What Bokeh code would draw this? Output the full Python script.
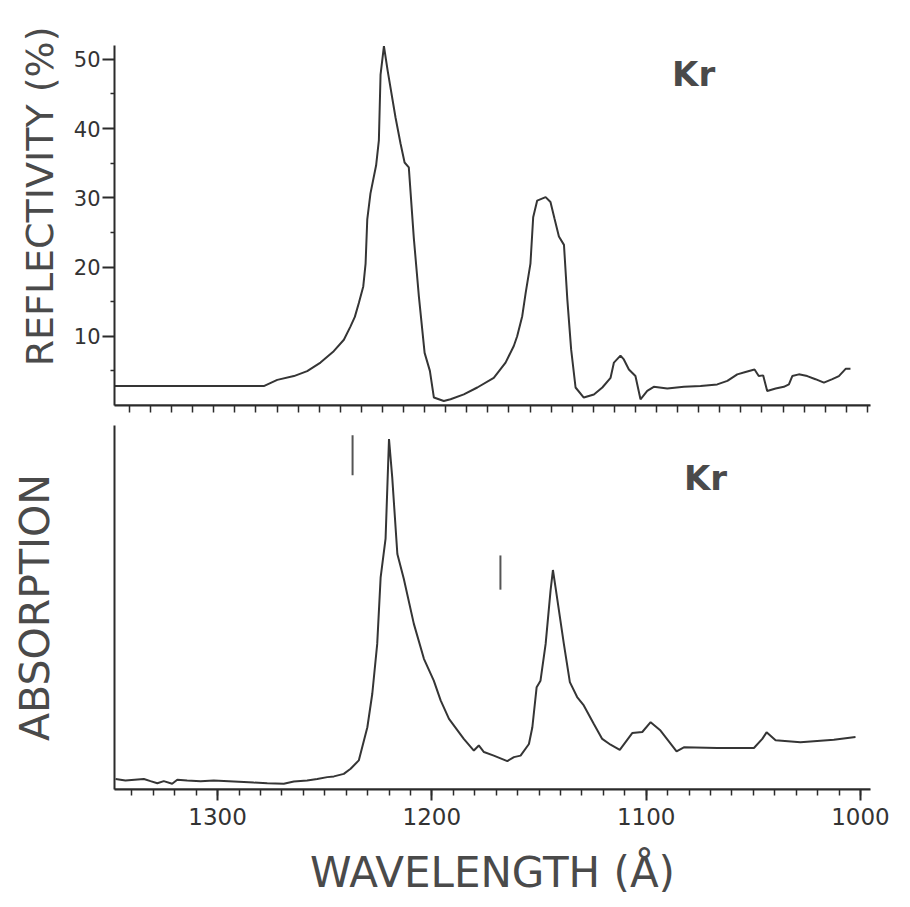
from bokeh.plotting import figure
from bokeh.layouts import column
from bokeh.models import Range1d, FixedTicker, Label, LinearAxis, Title
from bokeh.embed import file_html
from bokeh.resources import INLINE

# ---------------- data ----------------
# Upper panel: reflectivity of Kr (%), versus wavelength (Angstrom)
refl_wl = [1347, 1276.3, 1269.9, 1262, 1255.7, 1249.4, 1243.1, 1238.3, 1235.2, 1233.1,
           1231.2, 1229.1, 1228, 1227.2, 1225.7, 1223, 1221.7, 1220.9, 1219.3, 1217.5,
           1213.8, 1211.4, 1209.5, 1207.5, 1205.1, 1202.7, 1200, 1197.5, 1195.6, 1190.9,
           1187.7, 1181.4, 1175, 1167.2, 1161.6, 1157.7, 1156.1, 1153.7, 1152.1, 1149.8,
           1148.5, 1146.6, 1142.6, 1140.3, 1138.4, 1136.3, 1133.9, 1132.3, 1130.5, 1128.4,
           1124.5, 1119.7, 1115.7, 1111.8, 1110.2, 1107.1, 1105.5, 1103.1, 1100, 1097.6,
           1094.4, 1091.3, 1084.9, 1077, 1069.1, 1061.2, 1056.4, 1051.7, 1047.8, 1043.5,
           1041.5, 1039.4, 1037.5, 1033.5, 1029.6, 1027.2, 1025.6, 1022.5, 1018.5, 1014.6,
           1010.6, 1006.6, 1003.5, 1000.3, 998]
refl = [2.8, 2.8, 3.7, 4.25, 4.97, 6.2, 7.85, 9.5, 11.4, 12.8,
        14.8, 17.2, 20.5, 26.9, 30.6, 34.7, 38.3, 47.8, 51.9, 48.3,
        41.6, 37.8, 35.1, 34.4, 24.1, 15.7, 7.6, 5.0, 1.15, 0.66,
        0.9, 1.6, 2.6, 4.0, 6.2, 8.6, 10, 12.9, 16.2, 20.5,
        27.2, 29.6, 30.1, 29.4, 27.0, 24.4, 23.2, 15.3, 8.1, 2.6,
        1.15, 1.6, 2.6, 4.0, 6.2, 7.2, 6.65, 5.2, 4.25, 0.9,
        2.1, 2.7, 2.45, 2.7, 2.8, 3.05, 3.55, 4.5, 4.85, 5.2,
        4.25, 4.35, 2.1, 2.45, 2.7, 3.05, 4.25, 4.5, 4.25, 3.8,
        3.3, 3.8, 4.25, 5.3, 5.3]

# Lower panel: absorption of Kr (arbitrary units), versus wavelength (Angstrom)
abs_wl = [1347.6, 1343.0, 1334.4, 1331.3, 1328.1, 1325.1, 1321.2, 1318.8, 1314.2, 1307.9,
          1301.8, 1292.4, 1283.1, 1276.8, 1269.1, 1264.4, 1258.2, 1253.5, 1248.8, 1245.7,
          1241.1, 1237.9, 1234.1, 1230.1, 1227.8, 1225.5, 1223.9, 1221.6, 1220, 1218.5,
          1216.1, 1213.1, 1208.4, 1203.7, 1199.1, 1195.9, 1192, 1185.1, 1180.4, 1178.1,
          1175.7, 1171.1, 1164.8, 1161.7, 1158.6, 1154.7, 1153.1, 1151.1, 1149.3, 1146.9,
          1144.6, 1143.5, 1142.3, 1138.4, 1135.6, 1132.2, 1129.1, 1124.4, 1120.5, 1116.6,
          1112.3, 1106.5, 1101.8, 1097.9, 1093.3, 1085.8, 1082.4, 1066.8, 1049.7, 1045.8,
          1043.8, 1039.6, 1028, 1012.4, 1002.3]
absorp = [2.9, 2.5, 2.9, 2.3, 1.7, 2.3, 1.6, 2.7, 2.5, 2.3,
          2.5, 2.2, 1.9, 1.7, 1.6, 2.2, 2.5, 2.9, 3.4, 3.6,
          4.3, 5.7, 8.0, 17.1, 26.3, 40, 58.3, 68.9, 96.3, 85.8,
          64.7, 57.9, 45.5, 35.9, 29.9, 24.5, 19.4, 13.9, 10.7, 12.1,
          10.3, 9.3, 7.8, 8.9, 9.3, 12.5, 17.1, 28.1, 29.9, 40,
          54.7, 60.3, 55.6, 40, 29.5, 25.4, 23.1, 18.0, 13.9, 12.3,
          10.9, 15.5, 15.8, 18.5, 16.2, 10.5, 11.6, 11.4, 11.4, 13.9,
          15.7, 13.5, 13, 13.7, 14.4]

# short vertical markers in the lower panel (wavelength, bottom, top)
marker_wl = [1237, 1168]
marker_lo = [86.3, 54.9]
marker_hi = [97.3, 64.3]

# ticks
x_every50 = [1300, 1250, 1200, 1150, 1100, 1050, 1000]
x_labeled = [1300, 1200, 1100, 1000]
x_mid = [1250, 1150, 1050]
x_minor = list(range(990, 1350, 10))
y_major = [10, 20, 30, 40, 50]
y_minor = [5, 15, 25, 35, 45]

# ---------------- styling ----------------
AX = "#2b2b2b"
TXT = "#4a4a4a"
FONT = "DejaVu Sans"
LINE = "#353535"


def style_axis(ax):
    ax.axis_line_color = AX
    ax.axis_line_width = 2
    ax.major_tick_line_color = AX
    ax.minor_tick_line_color = AX
    ax.major_tick_line_width = 2
    ax.minor_tick_line_width = 1.5
    ax.major_tick_in = 0
    ax.minor_tick_in = 0


def base(fig):
    fig.outline_line_color = None
    fig.grid.visible = False
    fig.background_fill_color = "white"
    fig.border_fill_color = "white"
    for ax in fig.axis:
        style_axis(ax)


# ---------------- upper panel ----------------
top = figure(width=910, height=425, output_backend="svg", toolbar_location=None,
             x_range=Range1d(1347.1, 988.5), y_range=Range1d(0, 52),
             min_border_left=114, min_border_right=40, min_border_top=45,
             min_border_bottom=20)
base(top)
top.line(refl_wl, refl, line_color=LINE, line_width=2)

xa = top.xaxis[0]
xa.ticker = FixedTicker(ticks=[], minor_ticks=x_minor)
xa.minor_tick_out = 7

# longer ticks every 50 A, drawn on the same axis line
xa_long = LinearAxis(ticker=FixedTicker(ticks=[], minor_ticks=x_every50), fixed_location=0)
style_axis(xa_long)
xa_long.minor_tick_out = 13
xa_long.minor_tick_line_width = 2
top.add_layout(xa_long, "below")

ya = top.yaxis[0]
ya.ticker = FixedTicker(ticks=y_major, minor_ticks=y_minor)
ya.major_tick_out = 12
ya.minor_tick_out = 4
ya.major_label_text_font = FONT
ya.major_label_text_font_size = "21px"
ya.major_label_text_color = "#333333"
ya.major_label_standoff = 2

top.add_layout(Title(text="REFLECTIVITY (%)", align="right", offset=-19,
                     text_font=FONT, text_font_size="38px", text_font_style="normal",
                     text_color=TXT, standoff=18), "left")

top.add_layout(Label(x=1072.4, y=47.9, text="Kr", text_align="center",
                     text_baseline="middle", text_font=FONT, text_font_style="bold",
                     text_font_size="34px", text_color="#4a4a4a"))

# ---------------- lower panel ----------------
bot = figure(width=910, height=482, output_backend="svg", toolbar_location=None,
             x_range=Range1d(1348.1, 995.3), y_range=Range1d(0, 100),
             min_border_left=114, min_border_right=40, min_border_top=0,
             min_border_bottom=118)
base(bot)
bot.line(abs_wl, absorp, line_color=LINE, line_width=2)
bot.segment(x0=marker_wl, y0=marker_lo, x1=marker_wl, y1=marker_hi,
            line_color="#555555", line_width=2)

bx = bot.xaxis[0]
bx.ticker = FixedTicker(ticks=x_labeled, minor_ticks=x_minor)
bx.major_tick_out = 11
bx.minor_tick_out = 6
bx.major_label_text_font = FONT
bx.major_label_text_font_size = "23px"
bx.major_label_text_color = "#333333"
bx.major_label_standoff = 7
bx.axis_label = "WAVELENGTH (Å)"
bx.axis_label_text_font = FONT
bx.axis_label_text_font_style = "normal"
bx.axis_label_text_font_size = "42px"
bx.axis_label_text_color = TXT
bx.axis_label_standoff = 20

bx_mid = LinearAxis(ticker=FixedTicker(ticks=[], minor_ticks=x_mid), fixed_location=0)
style_axis(bx_mid)
bx_mid.minor_tick_out = 9
bx_mid.minor_tick_line_width = 2
bot.add_layout(bx_mid, "below")

by = bot.yaxis[0]
by.ticker = FixedTicker(ticks=[])
by.major_tick_out = 0
by.minor_tick_out = 0
by.axis_label = "ABSORPTION"
by.axis_label_text_font = FONT
by.axis_label_text_font_style = "normal"
by.axis_label_text_font_size = "41px"
by.axis_label_text_color = TXT
by.axis_label_standoff = 56

bot.add_layout(Label(x=1072.3, y=85.7, text="Kr", text_align="center",
                     text_baseline="middle", text_font=FONT, text_font_style="bold",
                     text_font_size="34px", text_color="#4a4a4a"))

page = column(top, bot, spacing=0)
open("out.html", "w").write(file_html(page, INLINE))
